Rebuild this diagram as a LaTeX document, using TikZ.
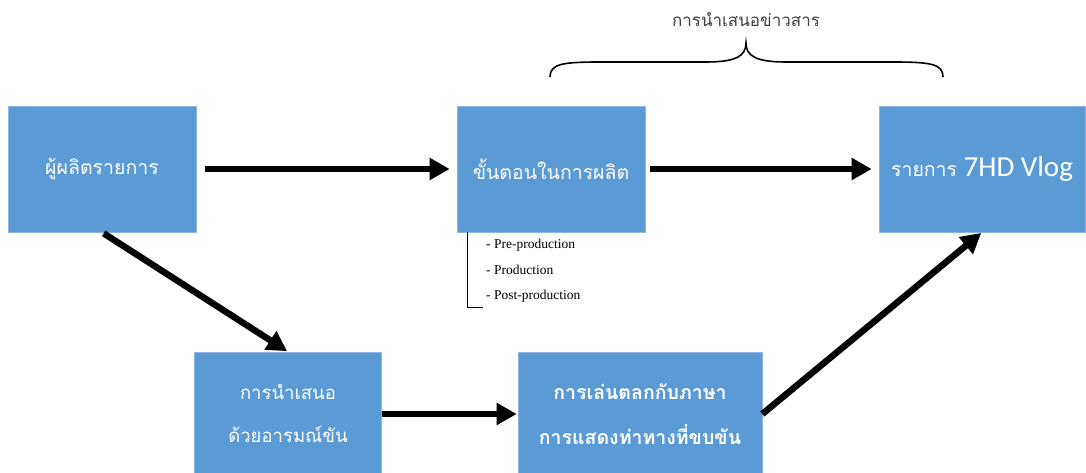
\documentclass[tikz,border=0pt]{standalone}
\usepackage{fontspec}
\setmainfont{Liberation Serif}
\newfontfamily\thaifont[Script=Thai]{Loma}
\newfontfamily\calib{Carlito}
\usetikzlibrary{arrows.meta}
\definecolor{boxblue}{HTML}{5B9BD5}
\definecolor{boxedge}{HTML}{8DB4E2}
\begin{document}
\begin{tikzpicture}[x=1pt,y=-1pt,
  box/.style={draw=boxedge, fill=boxblue, line width=0.6pt, text=white, inner sep=0pt, align=center,
    font=\thaifont\fontsize{19.5}{43}\selectfont},
  bigarrow/.style={line width=6.5pt, -{Triangle[length=20pt,width=21pt]}},
  listitem/.style={anchor=base west, inner sep=0pt, font=\fontsize{13.5}{15}\selectfont}]
\useasboundingbox (0,0) rectangle (1086,473);
\clip (0,0) rectangle (1086,473);
\node[box, minimum width=188pt, minimum height=126pt] (A) at (102,169) {ผู้ผลิตรายการ};
\node[box, minimum width=188pt, minimum height=126pt] (B) at (551,169) {ขั้นตอนในการผลิต};
\node[box, minimum width=206pt, minimum height=126pt] (C) at (982,169) {รายการ {\calib\fontsize{29}{32}\selectfont 7HD Vlog}};
\node[box, minimum width=187pt, minimum height=124pt, font=\thaifont\fontsize{18.5}{43}\selectfont] (D) at (288,414) {การนำเสนอ\\ด้วยอารมณ์ขัน};
\node[box, minimum width=244pt, minimum height=124pt, font=\thaifont\bfseries\fontsize{19.5}{45}\selectfont] (E) at (640,414) {การเล่นตลกกับภาษา\\การแสดงท่าทางที่ขบขัน};
\draw[bigarrow, shorten <=9pt, shorten >=7pt] (A) -- (B);
\draw[bigarrow, shorten <=5pt, shorten >=7pt] (B) -- (C);
\draw[bigarrow, shorten <=2pt, shorten >=1pt] (A.south) -- (D.north);
\draw[bigarrow, shorten >=1pt] (D) -- (E);
\draw[bigarrow, shorten >=1pt] (E.east) -- (C.south);
% bracket for list
\draw[line width=0.9pt] (467,232) -- (467,307) -- (483,307);
\node[listitem] (l1) at (486,248) {- Pre-production};
\node[listitem] (l2) at (486,274) {- Production};
\node[listitem] (l3) at (486,299) {- Post-production};
% brace
\draw[line width=1.6pt] (550,77) .. controls (550,64) and (562,62) .. (600,62) -- (706,62)
  .. controls (736,62) and (746,56) .. (746,43)
  .. controls (746,56) and (756,62) .. (786,62) -- (893,62)
  .. controls (931,62) and (943,64) .. (943,77);
\node[font=\thaifont\fontsize{17}{18}\selectfont, text=black!75] (T) at (746,20) {การนำเสนอข่าวสาร};
\end{tikzpicture}
\end{document}
